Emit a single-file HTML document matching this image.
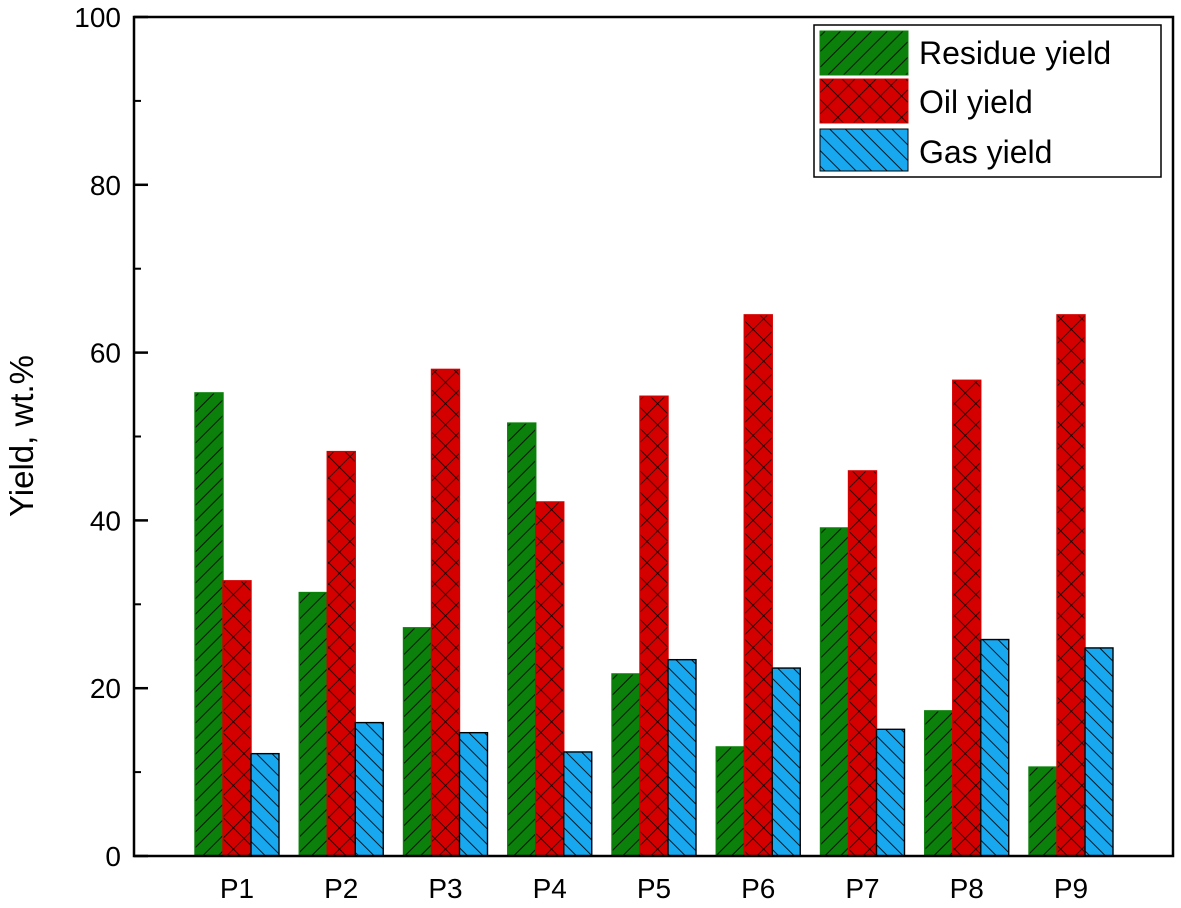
<!DOCTYPE html>
<html><head><meta charset="utf-8"><style>
html,body{margin:0;padding:0;background:#fff;}
svg text{font-family:"Liberation Sans",Arial,sans-serif;}
</style></head><body>
<svg id="chart" width="1181" height="903" viewBox="0 0 1181 903" xmlns="http://www.w3.org/2000/svg">
<defs>
<pattern id="hG" patternUnits="userSpaceOnUse" width="11" height="11" patternTransform="rotate(45)">
<rect width="11" height="11" fill="#0b800b"/><line x1="0" y1="0" x2="0" y2="11" stroke="#000" stroke-width="1.7"/></pattern>
<pattern id="hR" patternUnits="userSpaceOnUse" width="15" height="15" patternTransform="rotate(45)">
<rect width="15" height="15" fill="#d40000"/><line x1="0" y1="0" x2="0" y2="15" stroke="#000" stroke-width="1.5"/><line x1="0" y1="0" x2="15" y2="0" stroke="#000" stroke-width="1.5"/></pattern>
<pattern id="hB" patternUnits="userSpaceOnUse" width="11" height="11" patternTransform="rotate(-45)">
<rect width="11" height="11" fill="#18a8f0"/><line x1="0" y1="0" x2="0" y2="11" stroke="#000" stroke-width="1.7"/></pattern>
</defs>
<g id="bars"></g>
<rect x="134" y="17" width="1039" height="839" fill="none" stroke="#000" stroke-width="2.5"/>
<g id="axes"></g>
<text x="33" y="436" font-size="33" text-anchor="middle" transform="rotate(-90 33 436)">Yield, wt.%</text>
<g>
<rect x="814" y="25" width="347" height="152" fill="#fff" stroke="#000" stroke-width="1.5"/>
<rect x="820" y="31" width="88" height="44" fill="url(#hG)" stroke="#0b800b"/>
<rect x="820" y="79" width="88" height="44" fill="url(#hR)" stroke="#d40000"/>
<rect x="820" y="129" width="88" height="42" fill="url(#hB)" stroke="#000"/>
<text x="919" y="64" font-size="32">Residue yield</text>
<text x="919" y="113" font-size="32">Oil yield</text>
<text x="919" y="163" font-size="32">Gas yield</text>
</g>
</svg>
<script>
const categories=["P1","P2","P3","P4","P5","P6","P7","P8","P9"];
const residue=[55.2,31.4,27.2,51.6,21.7,13.0,39.1,17.3,10.6];
const oil=[32.8,48.2,58.0,42.2,54.8,64.5,45.9,56.7,64.5];
const gas=[12.2,15.9,14.7,12.4,23.4,22.4,15.1,25.8,24.8];
const yTicks=[0,20,40,60,80,100];
const NS="http://www.w3.org/2000/svg";
const y0=856,yTop=17,yMax=100;
function y(v){return y0-(v/yMax)*(y0-yTop);}
const gStart=195,gStep=104.25,bw=28;
function xb(i,s){return gStart+i*gStep+s*bw;}
const bars=document.getElementById('bars');
const series=[{d:residue,f:"url(#hG)",st:"#0b800b",n:"residue"},{d:oil,f:"url(#hR)",st:"#d40000",n:"oil"},{d:gas,f:"url(#hB)",st:"#000",n:"gas"}];
series.forEach((s,si)=>{s.d.forEach((v,i)=>{
const r=document.createElementNS(NS,'rect');
r.setAttribute('x',xb(i,si));r.setAttribute('y',y(v));r.setAttribute('width',bw);r.setAttribute('height',y0-y(v));
r.setAttribute('fill',s.f);r.setAttribute('stroke',s.st);r.setAttribute('stroke-width','1.4');


bars.appendChild(r);});});
const axes=document.getElementById('axes');
yTicks.forEach((t,i)=>{
const l=document.createElementNS(NS,'line');
l.setAttribute('x1',134);l.setAttribute('x2',148);l.setAttribute('y1',y(t));l.setAttribute('y2',y(t));l.setAttribute('stroke','#000');l.setAttribute('stroke-width','2.5');


axes.appendChild(l);
if(i<yTicks.length-1){const m=document.createElementNS(NS,'line');
const mv=(t+yTicks[i+1])/2;
m.setAttribute('x1',134);m.setAttribute('x2',141);m.setAttribute('y1',y(mv));m.setAttribute('y2',y(mv));m.setAttribute('stroke','#000');m.setAttribute('stroke-width','2');


axes.appendChild(m);}
const tx=document.createElementNS(NS,'text');
tx.setAttribute('x',121);tx.setAttribute('y',y(t)+10);tx.setAttribute('font-size','28');tx.setAttribute('text-anchor','end');
tx.textContent=t;


axes.appendChild(tx);});
categories.forEach((c,i)=>{
const tx=document.createElementNS(NS,'text');
tx.setAttribute('x',xb(i,1.5));tx.setAttribute('y',898);tx.setAttribute('font-size','28');tx.setAttribute('text-anchor','middle');
tx.textContent=c;


axes.appendChild(tx);});
</script>
</body></html>
